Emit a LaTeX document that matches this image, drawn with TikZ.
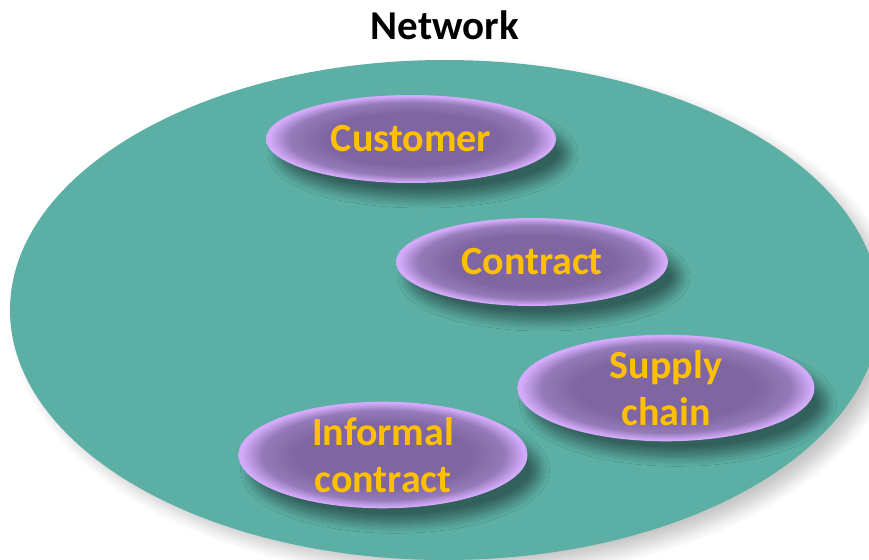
\documentclass[tikz,border=0pt]{standalone}
\usepackage{fontspec}
\setmainfont{Carlito}
\usetikzlibrary{shapes.geometric,shadows.blur}
\definecolor{netteal}{HTML}{5CAFA5}
\definecolor{pcenter}{HTML}{7F66A2}
\definecolor{pmid}{HTML}{957AB9}
\definecolor{pedge}{HTML}{D4ABFA}
\definecolor{labelgold}{HTML}{FFC000}
\pgfdeclareradialshading{glossy}{\pgfpoint{0bp}{0bp}}{color(0bp)=(pcenter); color(15bp)=(pcenter); color(21bp)=(pmid); color(24.5bp)=(pedge); color(25bp)=(pedge); color(50bp)=(pedge)}

\begin{document}
\begin{tikzpicture}[
		x=1pt, y=-1pt,
		netbox/.style={ellipse, fill=netteal, inner sep=0pt, minimum width=870pt, minimum height=500pt,
			blur shadow={shadow xshift=12pt, shadow yshift=-10pt, shadow blur radius=12pt, shadow blur steps=12, shadow opacity=22}},
		part/.style={ellipse, shading=glossy, inner sep=0pt, align=center, font=\fontsize{40}{47}\selectfont\bfseries,
			text=labelgold, blur shadow={shadow xshift=12pt, shadow yshift=-15pt, shadow blur radius=10pt, shadow blur steps=12, shadow opacity=45}},
	]
		\useasboundingbox (0,0) rectangle (869,559);
		\node[netbox] (net) at (445,310) {};
		\node[font=\fontsize{41}{44}\selectfont\bfseries] (title) at (445,25) {Network};
		\node[part, minimum width=290pt, minimum height=88pt] (customer) at (411,139) {Customer};
		\node[part, minimum width=272pt, minimum height=88pt] (contract) at (532,262) {Contract};
		\node[part, minimum width=297pt, minimum height=105pt] (supply) at (666,388) {Supply\\chain};
		\node[part, minimum width=289pt, minimum height=103pt] (informal) at (383,455) {Informal\\contract};
	\end{tikzpicture}
\end{document}
